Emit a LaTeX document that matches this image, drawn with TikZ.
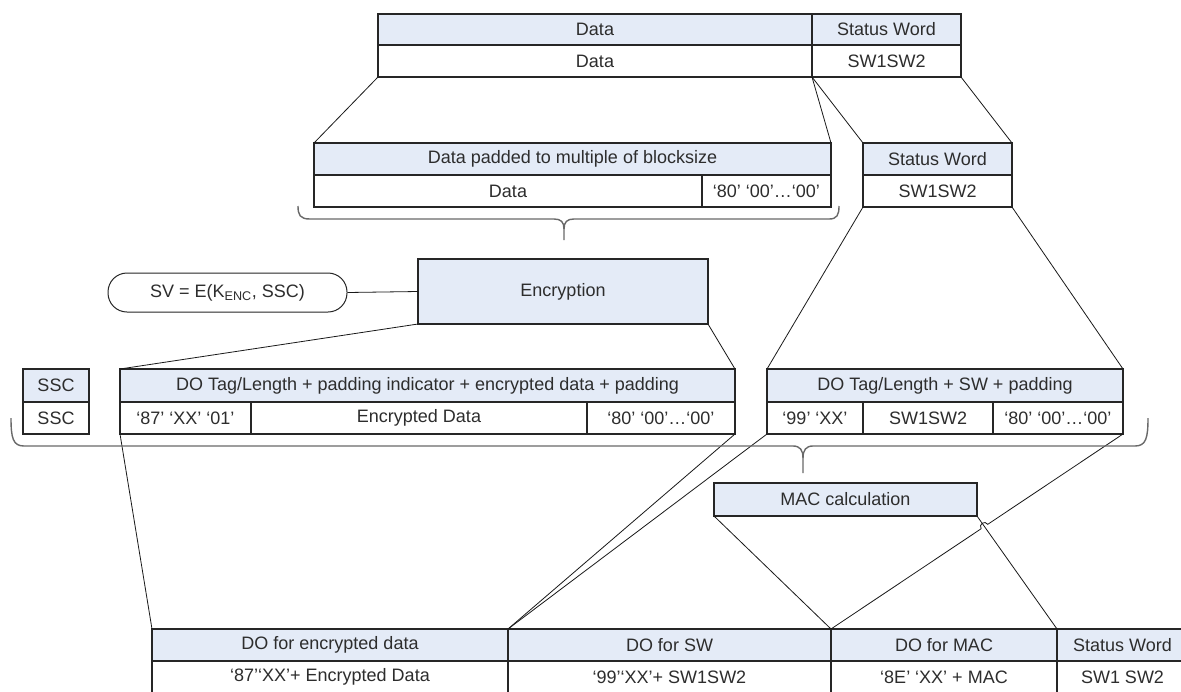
\documentclass[tikz,border=0pt]{standalone}
\usepackage{fontspec}
\setmainfont{Liberation Sans}
\usetikzlibrary{calc,intersections}
\definecolor{hdrfill}{RGB}{228,235,247}
\definecolor{txtcol}{RGB}{45,45,45}
\definecolor{bracecol}{RGB}{105,105,105}
\tikzset{
  cell/.style={draw=black!85, line width=1.1pt, inner sep=0pt, outer sep=0pt,
    anchor=north west, text=txtcol, font=\fontsize{18}{21}\selectfont},
  hcell/.style={cell, fill=hdrfill},
  dcell/.style={cell, fill=white},
  svbox/.style={draw=black!85, line width=1pt, fill=white, inner sep=0pt,
    minimum width=239pt, minimum height=39pt, rounded corners=19pt,
    text=txtcol, font=\fontsize{18}{21}\selectfont, anchor=center},
  link/.style={black!90, line width=0.8pt},
  curly/.style={draw=bracecol, line width=1.4pt},
}
\newcommand\mkcell[7]{\node[#1, minimum width={(#4-(#2))*1pt}, minimum height={(#5-(#3))*1pt}] (#6) at (#2,#3) {#7};}
\begin{document}
\begin{tikzpicture}[x=1pt,y=-1pt]
\clip (0,0) rectangle (1181,691);
\fill[white] (0,0) rectangle (1181,691);

% top table
\mkcell{hcell}{378}{14}{812}{45}{tA}{Data}
\mkcell{hcell}{812}{14}{961}{45}{tB}{Status Word}
\mkcell{dcell}{378}{45}{812}{77}{tC}{Data}
\mkcell{dcell}{812}{45}{961}{77}{tD}{SW1SW2}

% padded data
\mkcell{hcell}{314}{143}{831}{175}{pH}{Data padded to multiple of blocksize}
\mkcell{dcell}{314}{175}{702}{207}{pD}{Data}
\mkcell{dcell}{702}{175}{831}{207}{pP}{‘80’ ‘00’…‘00’}

% status word 2
\mkcell{hcell}{863}{143}{1012}{175}{sH}{Status Word}
\mkcell{dcell}{863}{175}{1012}{207}{sD}{SW1SW2}

% encryption
\mkcell{hcell}{418}{259}{708}{324}{enc}{Encryption}
\node[svbox] (sv) at (227.5,292.5) {SV = E(K\textsubscript{ENC}, SSC)};

% SSC
\mkcell{hcell}{23}{369}{89}{402}{cH}{SSC}
\mkcell{dcell}{23}{402}{89}{434}{cD}{SSC}

% DO encrypted
\mkcell{hcell}{120}{369}{735}{402}{dH}{DO Tag/Length + padding indicator + encrypted data + padding}
\mkcell{dcell}{120}{402}{251}{434}{d1}{‘87’ ‘XX’ ‘01’}
\mkcell{dcell}{251}{402}{587}{434}{d2}{Encrypted Data}
\mkcell{dcell}{587}{402}{735}{434}{d3}{‘80’ ‘00’…‘00’}

% DO SW
\mkcell{hcell}{767}{369}{1123}{402}{rH}{DO Tag/Length + SW + padding}
\mkcell{dcell}{767}{402}{863}{434}{r1}{‘99’ ‘XX’}
\mkcell{dcell}{863}{402}{993}{434}{r2}{SW1SW2}
\mkcell{dcell}{993}{402}{1123}{434}{r3}{‘80’ ‘00’…‘00’}

% MAC
\mkcell{hcell}{714}{483}{977}{516}{mac}{MAC calculation}

% bottom table
\mkcell{hcell}{152}{629}{508}{661}{b1H}{DO for encrypted data}
\mkcell{dcell}{152}{661}{508}{693}{b1D}{‘87’‘XX’+ Encrypted Data}
\mkcell{hcell}{508}{629}{831}{661}{b2H}{DO for SW}
\mkcell{dcell}{508}{661}{831}{693}{b2D}{‘99’‘XX’+ SW1SW2}
\mkcell{hcell}{831}{629}{1057}{661}{b3H}{DO for MAC}
\mkcell{dcell}{831}{661}{1057}{693}{b3D}{‘8E’ ‘XX’ + MAC}
\mkcell{hcell}{1057}{629}{1188}{661}{b4H}{Status Word}
\mkcell{dcell}{1057}{661}{1188}{693}{b4D}{SW1 SW2}

% connectors
\draw[link] (tC.south west) -- (pH.north west);
\draw[link] (tC.south east) -- (pH.north east);
\draw[link] (tC.south east) -- (sH.north west);
\draw[link] (tD.south east) -- (sH.north east);
\draw[link] (sv.east) -- (enc.west);
\draw[link] (enc.south west) -- (dH.north west);
\draw[link] (enc.south east) -- (dH.north east);
\draw[link] (sD.south west) -- (rH.north west);
\draw[link] (sD.south east) -- (rH.north east);
\draw[link] (d1.south west) -- (b1H.north west);
\draw[link] (d3.south east) -- (b2H.north west);
\draw[link] (r1.south west) -- (b2H.north west);
\draw[link] (mac.south west) -- (b3H.north west);
\draw[link, name path=lA] (mac.south east) -- (b4H.north west);
\path[name path=lB] (r3.south east) -- (b3H.north west);
\path[name intersections={of=lA and lB, by=hopc}];
\coordinate (hp1) at ($(hopc)!4pt!(r3.south east)$);
\coordinate (hp2) at ($(hopc)!4pt!(b3H.north west)$);
\draw[link] (r3.south east) -- (hp1) .. controls ($(hp1)!5.3pt!-90:(hopc)$) and ($(hp2)!5.3pt!90:(hopc)$) .. (hp2) -- (b3H.north west);

% braces
\draw[curly] (298,206) .. controls (298,215) and (300,219) .. (310,219) -- (554,219)
  .. controls (561,219) and (564,222) .. (564,229) -- (564,240);
\draw[curly] (564,229) .. controls (564,222) and (567,219) .. (574,219) -- (829,219)
  .. controls (837,219) and (839,215) .. (839,206);
\draw[curly] (11,418) .. controls (11,438) and (13,446) .. (24,446) -- (793,446)
  .. controls (800,446) and (803,450) .. (803,458) -- (803,473);
\draw[curly] (803,458) .. controls (803,450) and (806,446) .. (813,446) -- (1135,446)
  .. controls (1146,446) and (1148,438) .. (1148,418);
\end{tikzpicture}
\end{document}
